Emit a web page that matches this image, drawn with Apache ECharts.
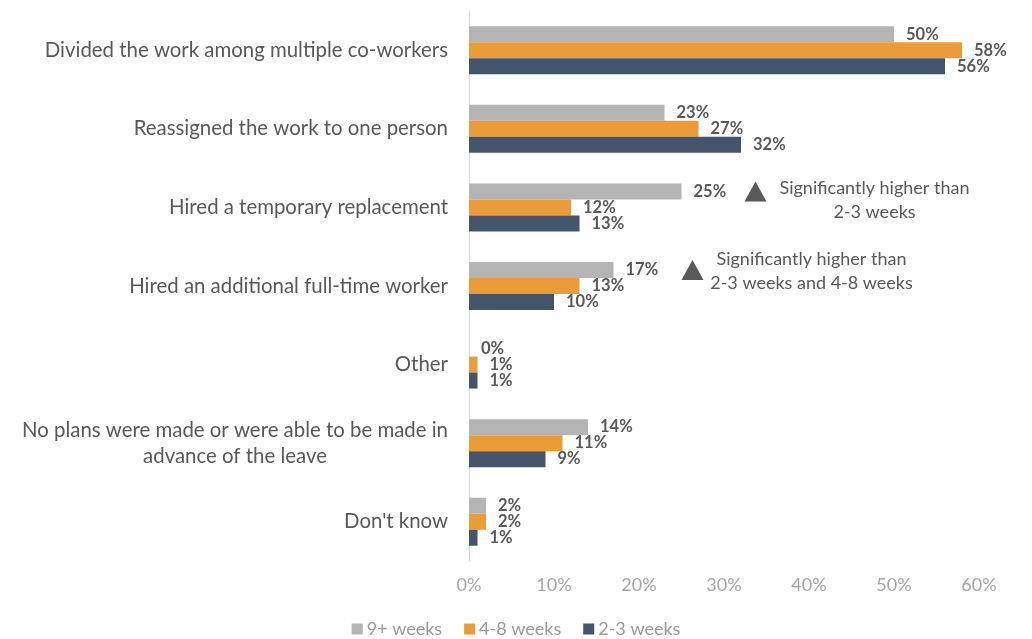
<!DOCTYPE html>
<html>
<head>
<meta charset="utf-8">
<script src="https://cdn.jsdelivr.net/npm/echarts@6/dist/echarts.min.js"></script>
<style>
  html, body { margin: 0; padding: 0; background: #ffffff; }
  #chart { width: 1032px; height: 639px; }
</style>
</head>
<body>
<div id="chart"></div>
<script>
// How work was covered during the leave, by length of leave
const categories = [
  'Divided the work among multiple co-workers',
  'Reassigned the work to one person',
  'Hired a temporary replacement',
  'Hired an additional full-time worker',
  'Other',
  'No plans were made or were able to be made in advance of the leave',
  "Don't know"
];
const seriesNames = ['9+ weeks', '4-8 weeks', '2-3 weeks'];
const weeks9plus = [50, 23, 25, 17, 0, 14, 2];
const weeks4to8  = [58, 27, 12, 13, 1, 11, 2];
const weeks2to3  = [56, 32, 13, 10, 1, 9, 1];
const xTicks = [0, 10, 20, 30, 40, 50, 60];

// Significance notes attached to the 9+ weeks bar of a category
const notes = [
  { category: 'Hired a temporary replacement', text: 'Significantly higher than\n2-3 weeks' },
  { category: 'Hired an additional full-time worker', text: 'Significantly higher than\n2-3 weeks and 4-8 weeks' }
];
// drawing offsets for each note: triangle distance from bar end, vertical shift of the text block
const noteStyle = [
  { triGap: 74, textDy: 9 },
  { triGap: 79, textDy: 1 }
];

const FONT = 'Lato, "Open Sans", sans-serif';
const TEXT = '#595959';
const COLORS = ['#B4B4B4', '#EC9B39', '#44546A'];
const BAR_W = 16;

function wrap(label, maxChars) {
  const words = label.split(' ');
  const lines = [];
  let cur = '';
  words.forEach(w => {
    const next = cur ? cur + ' ' + w : w;
    if (next.length > maxChars && cur) { lines.push(cur); cur = w; }
    else cur = next;
  });
  if (cur) lines.push(cur);
  return lines;
}

const seriesData = [weeks9plus, weeks4to8, weeks2to3];

const chart = echarts.init(document.getElementById('chart'), null, { renderer: 'canvas' });

const option = {
  animation: false,
  textStyle: { fontFamily: FONT },
  grid: { left: 469, right: 53, top: 11, bottom: 78, containLabel: false },
  legend: {
    data: seriesNames,
    top: 615,
    left: 'center',
    icon: 'rect',
    itemWidth: 11,
    itemHeight: 11,
    itemGap: 22,
    textStyle: { fontFamily: FONT, fontSize: 18, color: '#9A9A9A', padding: [0, 0, 0, -1] }
  },
  xAxis: {
    type: 'value',
    min: xTicks[0],
    max: xTicks[xTicks.length - 1],
    interval: xTicks[1] - xTicks[0],
    axisLine: { show: false },
    axisTick: { show: false },
    splitLine: { show: false },
    axisLabel: {
      formatter: '{value}%',
      color: '#A6A6A6',
      fontFamily: FONT,
      fontSize: 18,
      margin: 15
    }
  },
  yAxis: {
    type: 'category',
    data: categories,
    inverse: true,
    axisLine: { show: true, lineStyle: { color: '#D9D9D9', width: 1 } },
    axisTick: { show: false },
    axisLabel: {
      margin: 21,
      align: 'right',
      formatter: function (v) {
        const lines = wrap(v, 46);
        return lines.map(l => '{c|' + l + '}').join('\n');
      },
      rich: {
        c: { fontFamily: FONT, fontSize: 20.4, color: TEXT, align: 'center', lineHeight: 26 }
      }
    }
  },
  series: seriesNames.map((name, i) => ({
    name: name,
    type: 'bar',
    data: seriesData[i],
    barWidth: BAR_W,
    barGap: '0%',
    itemStyle: { color: COLORS[i] },
    label: {
      show: true,
      position: 'right',
      distance: 12,
      formatter: '{c}%',
      fontFamily: FONT,
      fontWeight: 'bold',
      fontSize: 16.5,
      color: TEXT
    }
  }))
};

chart.setOption(option);

// Place the significance notes next to the 9+ weeks bars using the chart's scales
function drawNotes() {
  const elements = [];
  notes.forEach((n, k) => {
    const ci = categories.indexOf(n.category);
    const v = weeks9plus[ci];
    const p = chart.convertToPixel({ xAxisIndex: 0, yAxisIndex: 0 }, [v, ci]);
    const barY = p[1] - BAR_W; // first bar of the group sits one bar width above the centre
    const triX = p[0] + noteStyle[k].triGap;
    elements.push({
      type: 'polygon',
      shape: { points: [[triX - 11, barY + 10], [triX + 11, barY + 10], [triX, barY - 10]] },
      style: { fill: '#595959' }
    });
    elements.push({
      type: 'text',
      x: triX + 119,
      y: barY + noteStyle[k].textDy,
      style: {
        text: n.text,
        fontFamily: FONT,
        fontSize: 18,
        fill: TEXT,
        align: 'center',
        verticalAlign: 'middle',
        lineHeight: 24
      }
    });
  });
  chart.setOption({ graphic: { elements: elements } });
}
drawNotes();
</script>
</body>
</html>
